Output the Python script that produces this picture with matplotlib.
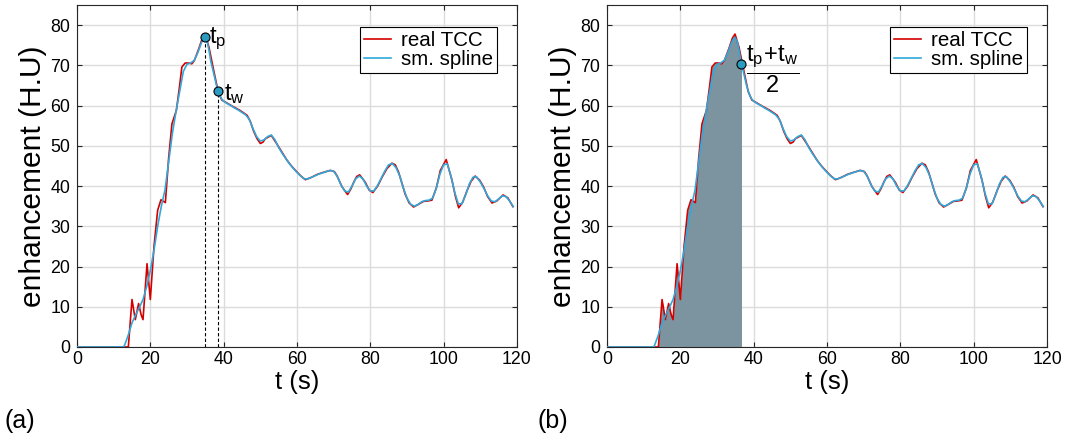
import numpy as np
import matplotlib
matplotlib.use("Agg")
import matplotlib.pyplot as plt
from matplotlib.patches import Rectangle

plt.rcParams['font.family'] = ['Liberation Sans', 'DejaVu Sans']
plt.rcParams['mathtext.fontset'] = 'custom'
plt.rcParams['mathtext.rm'] = 'Liberation Sans'
plt.rcParams['mathtext.it'] = 'Liberation Sans'

# measured time-concentration curve (real TCC)
t_red = [0, 14, 15, 15.9, 16.8, 17.5, 18, 19.1, 20, 21, 22, 22.9, 24.1, 25, 25.9,
         27.1, 28, 28.6, 29.5, 30.5, 31.3, 32, 33.2, 34.2, 34.9, 36, 37.3, 38.5,
         39.5, 41, 42.5, 44.5, 46.4, 47.3, 48.2, 49.1, 50, 50.7, 51.4, 53, 54.5,
         56, 57.3, 58.5, 60, 61.2, 62.3, 64, 65.5, 67.5, 69.1, 70.2, 70.9, 72.3,
         73.8, 74.7, 75.5, 76.3, 77.1, 78.6, 79.7, 80.7, 82, 83.2, 84.5, 85.9,
         86.8, 87.7, 88.6, 89.5, 90.6, 91.8, 93, 94.5, 95.6, 96.8, 98, 99.1,
         100.7, 101.5, 102.3, 103.2, 104.1, 105.2, 106.4, 107.5, 108.6, 109.8,
         110.9, 112, 113.2, 114.5, 116.2, 117.5, 118.9]
v_red = [0, 0, 11.8, 6.8, 10.8, 8.0, 6.8, 20.7, 11.8, 25.0, 34.0, 36.6, 35.9, 47.0, 55.5,
         58.8, 65.0, 69.6, 70.6, 70.6, 70.4, 71.2, 74.1, 76.8, 77.8, 74.5, 68.7, 63.5,
         61.4, 60.6, 59.8, 58.8, 57.6, 56.0, 53.6, 51.8, 50.6, 50.9, 51.8, 52.6, 50.5,
         48.3, 46.4, 45.0, 43.5, 42.4, 41.6, 42.2, 42.9, 43.5, 43.9, 43.6, 42.6, 39.8,
         37.9, 39.3, 41.0, 42.4, 42.8, 41.0, 39.0, 38.4, 40.0, 42.2, 44.3, 45.7,
         45.3, 43.5, 40.8, 38.0, 35.8, 34.8, 35.4, 36.2, 36.3, 36.5, 39.5, 43.9,
         46.6, 44.0, 41.4, 37.5, 34.6, 36.0, 38.9, 41.2, 42.5, 41.5, 39.8, 37.4,
         35.8, 36.3, 37.8, 37.1, 34.9]

# smoothing-spline fit of the same curve
t_blue = [0, 12.7, 13, 14, 15, 16, 17, 18, 19, 20, 21, 22, 23, 24, 25, 26, 27, 28, 29,
          30, 31, 32, 33, 34, 34.8, 35.5, 36, 36.5, 37, 37.5, 38, 38.5, 39, 39.5, 40,
          41, 42, 43, 44, 45, 46, 47, 48, 49, 50, 51, 52, 53, 54, 55, 56, 57, 58, 59,
          60, 61, 62, 63, 64, 65, 66, 67, 68, 69, 70, 71, 72, 73, 74, 75, 76, 77, 78,
          79, 80, 81, 82, 83, 84, 85, 86, 87, 88, 89, 90, 91, 92, 93, 94, 95, 96, 97,
          98, 99, 100, 101, 102, 103, 104, 105, 106, 107, 108, 109, 110, 111, 112,
          113, 114, 115, 116, 117, 118, 119]
v_blue = [0, 0, 0.5, 3.0, 6.0, 8.0, 9.8, 11.8, 15.0, 19.0, 24.0, 30.0, 35.0, 39.0, 46.0,
          53.0, 58.5, 63.5, 68.5, 70.3, 70.6, 71.3, 73.3, 75.8, 77.0, 76.0, 73.8, 71.0,
          69.1, 67.2, 65.2, 63.7, 62.4, 61.6, 61.1, 60.5, 60.0, 59.4, 58.9, 58.3, 57.7,
          56.6, 54.3, 52.3, 51.2, 51.5, 52.3, 52.7, 51.5, 49.6, 48.1, 46.8, 45.5, 44.4,
          43.4, 42.5, 41.8, 41.8, 42.2, 42.6, 43.0, 43.3, 43.6, 43.9, 43.7, 42.4, 40.3,
          38.8, 38.5, 40.0, 41.8, 42.5, 41.8, 40.0, 38.8, 38.8, 40.2, 42.0, 43.8, 45.3,
          45.6, 44.6, 42.6, 39.6, 37.0, 35.5, 35.0, 35.4, 36.1, 36.4, 36.5, 37.0, 39.5,
          43.0, 45.3, 45.5, 42.5, 38.5, 35.6, 35.6, 37.8, 40.5, 42.2, 42.3, 41.0, 39.4,
          37.6, 36.3, 36.1, 36.8, 37.6, 37.4, 36.3, 34.9]

t_p = 34.8   # time of peak
t_w = 38.5   # wash-out time
t_half = (t_p + t_w) / 2

x_ticks = [0, 20, 40, 60, 80, 100, 120]
y_ticks = [0, 10, 20, 30, 40, 50, 60, 70, 80]

RED = '#d40000'
BLUE = '#2fa9dc'
MARK = '#2a9cc2'
FILL = '#7c949f'

fig = plt.figure(figsize=(10.65, 4.44), dpi=100)
ax_a = fig.add_axes([0.0723, 0.2185, 0.4131, 0.770])
ax_b = fig.add_axes([0.5700, 0.2185, 0.4131, 0.770])


def style(ax):
    ax.set_xlim(0, 120)
    ax.set_ylim(0, 85)
    ax.set_xticks(x_ticks)
    ax.set_yticks(y_ticks)
    ax.grid(True, color='#dcdcdc', linewidth=1.0)
    ax.set_axisbelow(True)
    ax.tick_params(direction='in', length=3.5, width=0.8, top=True, right=True,
                   labelsize=12.8, colors='#262626', labelcolor='black')
    ax.tick_params(axis='x', pad=3)
    ax.tick_params(axis='y', pad=5)
    for s in ax.spines.values():
        s.set_color('#262626')
        s.set_linewidth(0.8)
    ax.set_xlabel('t (s)', fontsize=18.5, labelpad=1)
    ax.set_ylabel('enhancement (H.U)', fontsize=21.5, labelpad=2)


for ax in (ax_a, ax_b):
    style(ax)

# (a) peak and wash-out markers
ax_a.plot(t_red, v_red, color=RED, lw=1.2, label='real TCC', zorder=3)
ax_a.plot(t_blue, v_blue, color=BLUE, lw=1.2, label='sm. spline', zorder=4)
v_p = np.interp(t_p, t_blue, v_blue)
v_w = np.interp(t_w, t_blue, v_blue)
for tt, vv in ((t_p, v_p), (t_w, v_w)):
    ax_a.plot([tt, tt], [0, vv], color='black', lw=0.8, ls=(0, (3, 2)), zorder=2)
    ax_a.plot(tt, vv, 'o', ms=6.5, mfc=MARK, mec='black', mew=0.8, zorder=5)
ax_a.text(t_p + 1.3, v_p - 0.5, r'$\mathrm{t_p}$', fontsize=17, va='center', ha='left')
ax_a.text(t_w + 1.5, v_w - 0.8, r'$\mathrm{t_w}$', fontsize=17, va='center', ha='left')

# (b) area under the curve up to (t_p + t_w) / 2
fill = ax_b.fill_between(t_red, 0, v_red, color=FILL, lw=0, zorder=2)
clip = Rectangle((0, 0), t_half, 100, transform=ax_b.transData)
fill.set_clip_path(clip)
ax_b.plot(t_red, v_red, color=RED, lw=1.2, label='real TCC', zorder=3)
ax_b.plot(t_blue, v_blue, color=BLUE, lw=1.2, label='sm. spline', zorder=4)
v_h = np.interp(t_half, t_blue, v_blue)
ax_b.plot(t_half, v_h, 'o', ms=6.5, mfc=MARK, mec='black', mew=0.8, zorder=5)
ax_b.text(t_half + 1.2, v_h - 1.4, r'$\dfrac{\mathrm{t_p\!+\!t_w}}{\mathrm{2}}$',
          fontsize=17, va='center', ha='left')

for ax in (ax_a, ax_b):
    leg = ax.legend(loc='upper right', bbox_to_anchor=(0.955, 0.936), borderaxespad=0,
                    fontsize=14.8, handlelength=1.3, handletextpad=0.5,
                    labelspacing=0.0, borderpad=0.2, fancybox=False,
                    framealpha=1, edgecolor='black')
    leg.get_frame().set_linewidth(0.8)

fig.text(0.004, 0.025, '(a)', fontsize=18, ha='left', va='bottom')
fig.text(0.505, 0.025, '(b)', fontsize=18, ha='left', va='bottom')

fig.savefig('out.png', dpi=100)
